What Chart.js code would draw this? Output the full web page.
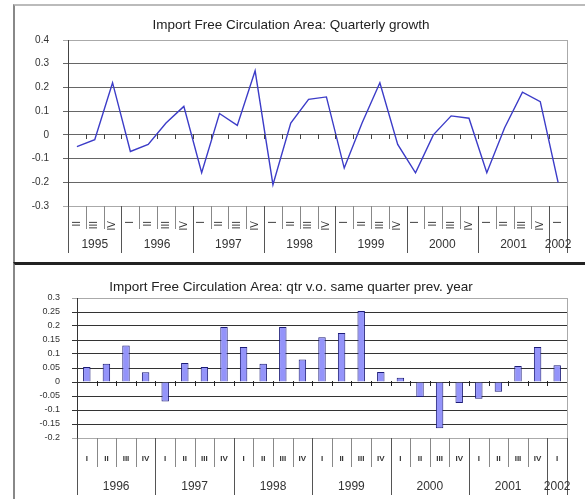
<!DOCTYPE html>
<html lang="en">
<head>
  <meta charset="UTF-8" />
  <title>Import Free Circulation Area</title>
  <style>
    body {
      margin: 0;
      padding: 0;
      background: #fff;
      width: 585px;
      height: 499px;
      position: relative;
      overflow: hidden;
      font-family: "Liberation Sans", Arial, sans-serif;
    }
    .frame-top {
      position: absolute;
      left: 13px; top: 4px;
      width: 572px; height: 256px;
      border-top: 2px solid #bbb;
      border-left: 2px solid #888;
    }
    .frame-bottom {
      position: absolute;
      left: 13px; top: 262px;
      width: 572px; height: 240px;
      border-top: 3px solid #222;
      border-left: 2px solid #888;
    }
    canvas { position: absolute; }
    #topChart { left: 15px; top: 8px; }
    #bottomChart { left: 15px; top: 265px; }
  </style>
</head>
<body>
  <div class="frame-top"></div>
  <div class="frame-bottom"></div>
  <canvas id="topChart" width="570" height="253"></canvas>
  <canvas id="bottomChart" width="570" height="234"></canvas>

  <script src="https://cdn.jsdelivr.net/npm/chart.js"></script>
  <script>
    // top chart: 1995 Q2 .. 2002 Q1
    const topQuarters = ['II','III','IV',
      'I','II','III','IV', 'I','II','III','IV', 'I','II','III','IV',
      'I','II','III','IV', 'I','II','III','IV', 'I','II','III','IV', 'I'];
    const topYears = ['1995','1996','1997','1998','1999','2000','2001','2002'];
    const quarterlyGrowth = [-0.05, -0.02, 0.22,
      -0.07, -0.04, 0.05, 0.12,
      -0.16, 0.09, 0.04, 0.27,
      -0.21, 0.05, 0.15, 0.16,
      -0.14, 0.05, 0.22, -0.04,
      -0.16, 0.00, 0.08, 0.07,
      -0.16, 0.03, 0.18, 0.14,
      -0.20];

    // bottom chart: 1996 Q1 .. 2002 Q1
    const bottomQuarters = ['I','II','III','IV', 'I','II','III','IV', 'I','II','III','IV',
      'I','II','III','IV', 'I','II','III','IV', 'I','II','III','IV', 'I'];
    const bottomYears = ['1996','1997','1998','1999','2000','2001','2002'];
    const yearOnYear = [0.054, 0.065, 0.13, 0.035,
      -0.07, 0.068, 0.054, 0.196,
      0.125, 0.065, 0.196, 0.08,
      0.16, 0.175, 0.254, 0.036,
      0.015, -0.054, -0.165, -0.075,
      -0.06, -0.035, 0.057, 0.125,
      0.06];

    const FONT = '"Liberation Sans", Arial, sans-serif';
    Chart.defaults.font.family = FONT;
    Chart.defaults.color = '#222';

    // separators, year labels and zero-line tick marks of the grouped category axis
    const groupAxis = {
      id: 'groupAxis',
      afterDraw(chart, args, opts) {
        const ctx = chart.ctx;
        const x = chart.scales.x, y = chart.scales.y;
        const area = chart.chartArea;
        const labels = chart.data.labels;
        const n = labels.length;
        const edge = i => i === 0 ? area.left : i === n ? area.right
          : (x.getPixelForValue(i - 1) + x.getPixelForValue(i)) / 2;
        const line = (x1, y1, x2, y2) => {
          ctx.beginPath();
          ctx.moveTo(Math.round(x1) + 0.5, y1);
          ctx.lineTo(Math.round(x2) + 0.5, y2);
          ctx.stroke();
        };
        ctx.save();
        ctx.lineWidth = 1;

        // right border of plot area
        ctx.strokeStyle = '#aaa';
        line(area.right, area.top, area.right, area.bottom);

        // ticks on zero line
        ctx.strokeStyle = opts.zeroColor;
        const y0 = Math.round(y.getPixelForValue(0));
        for (let i = 1; i < n; i++) line(edge(i), y0 - 1, edge(i), y0 + 4);

        // separators
        const starts = [];
        for (let i = 0; i <= n; i++) {
          const isYear = i === 0 || i === n || labels[i] === 'I';
          if (isYear) starts.push(i);
          ctx.strokeStyle = isYear ? '#555' : '#888';
          line(edge(i), area.bottom, edge(i), area.bottom + (isYear ? opts.yearLen : opts.qLen));
        }

        // year labels
        ctx.fillStyle = '#333';
        ctx.font = opts.yearFont + 'px ' + FONT;
        ctx.textAlign = 'center';
        ctx.textBaseline = 'middle';
        for (let g = 0; g < starts.length - 1; g++) {
          const cx = (edge(starts[g]) + edge(starts[g + 1])) / 2;
          ctx.fillText(opts.years[g], cx, area.bottom + opts.yearY);
        }
        ctx.restore();
      }
    };

    const fmt = v => String(Math.round(v * 100) / 100);
    const gridColor = (min, max, inner, outer) => c => {
      const v = c.tick ? c.tick.value : 0;
      return (Math.abs(v - min) < 1e-6 || Math.abs(v - max) < 1e-6) ? outer : inner;
    };

    new Chart(document.getElementById('topChart'), {
      type: 'line',
      data: {
        labels: topQuarters,
        datasets: [{
          data: quarterlyGrowth,
          borderColor: '#3c3cc8',
          borderWidth: 1.4,
          pointRadius: 0,
          tension: 0,
          fill: false
        }]
      },
      plugins: [groupAxis],
      options: {
        responsive: false,
        animation: false,
        layout: { padding: { right: 18 } },
        plugins: {
          legend: { display: false },
          tooltip: { enabled: false },
          title: {
            display: true,
            text: 'Import Free Circulation Area: Quarterly growth',
            font: { size: 13.5, weight: 'normal' },
            color: '#222',
            padding: { top: 9, bottom: 6.8 }
          },
          groupAxis: { years: topYears, qLen: 23, yearLen: 47, yearY: 39, yearFont: 12, zeroColor: '#444' }
        },
        scales: {
          x: {
            offset: true,
            grid: { display: false },
            border: { display: false },
            ticks: { autoSkip: false, minRotation: 90, maxRotation: 90, padding: 7, font: { size: 10 }, color: '#333' },
            afterFit: s => { s.height = 55; }
          },
          y: {
            min: -0.3,
            max: 0.4,
            ticks: { stepSize: 0.1, padding: 14, font: { size: 10 }, color: '#333', callback: fmt },
            grid: { color: gridColor(-0.3, 0.4, '#666', '#aaa'), tickLength: 5 },
            border: { color: '#444' },
            afterFit: s => { s.width = 53; }
          }
        }
      }
    });

    new Chart(document.getElementById('bottomChart'), {
      type: 'bar',
      data: {
        labels: bottomQuarters,
        datasets: [{
          data: yearOnYear,
          backgroundColor: '#9494fa',
          borderColor: '#1c1c78',
          borderWidth: 1,
          categoryPercentage: 1,
          barPercentage: 0.38
        }]
      },
      plugins: [groupAxis],
      options: {
        responsive: false,
        animation: false,
        layout: { padding: { right: 18 } },
        plugins: {
          legend: { display: false },
          tooltip: { enabled: false },
          title: {
            display: true,
            text: 'Import Free Circulation Area: qtr v.o. same quarter prev. year',
            font: { size: 13.5, weight: 'normal' },
            color: '#222',
            padding: { top: 14, bottom: 2.8 }
          },
          groupAxis: { years: bottomYears, qLen: 29, yearLen: 57, yearY: 49, yearFont: 12, zeroColor: '#222' }
        },
        scales: {
          x: {
            offset: true,
            grid: { display: false },
            border: { display: false },
            ticks: { autoSkip: false, maxRotation: 0, padding: 8, font: { size: 8, weight: 'bold' }, color: '#333' },
            afterFit: s => { s.height = 61; }
          },
          y: {
            min: -0.2,
            max: 0.3,
            ticks: { stepSize: 0.05, padding: 12, font: { size: 9 }, color: '#333', callback: fmt },
            grid: { color: gridColor(-0.2, 0.3, '#333', '#aaa'), tickLength: 5 },
            border: { color: '#333' },
            afterFit: s => { s.width = 62; }
          }
        }
      }
    });
  </script>
</body>
</html>
